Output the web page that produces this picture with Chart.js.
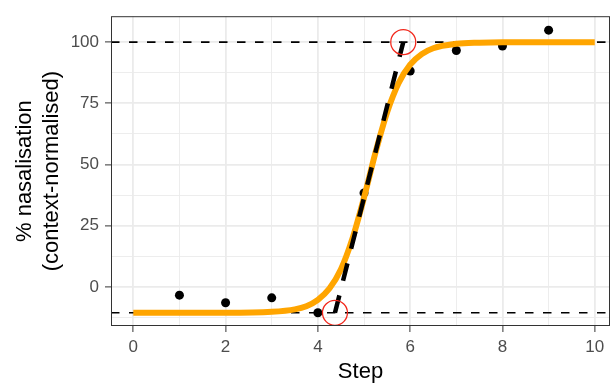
<!DOCTYPE html>
<html>
<head>
<meta charset="utf-8">
<script src="https://cdn.jsdelivr.net/npm/chart.js@4/dist/chart.umd.min.js"></script>
<style>
  html, body { margin: 0; padding: 0; background: #fff; }
  canvas { display: block; }
</style>
</head>
<body>
<canvas id="chart" width="611" height="383"></canvas>
<script>
// values
var xTicks = [0, 2, 4, 6, 8, 10];
var yTicks = [0, 25, 50, 75, 100];
var xRange = [-0.483, 10.33];
var yRange = [-16, 110.6];

var steps = [1, 2, 3, 4, 5, 6, 7, 8, 9];
var nasal = [-3.4, -6.5, -4.5, -10.6, 38.4, 88.2, 96.6, 98.4, 104.9];

var fitX = [0, 1, 2, 3, 3.5, 3.75, 4, 4.25, 4.5, 4.75, 5, 5.25, 5.5, 5.75, 6, 6.25, 6.5, 7, 7.5, 8, 9, 10];
var fitY = [-10.6, -10.6, -10.6, -10.2, -9.2, -7.9, -5.3, -0.7, 7.2, 19.8, 36.5, 55.0, 71.3, 83.3, 90.8, 95.1, 97.5, 99.3, 99.8, 100, 100, 100];

var plateaus = [100, -10.6];
var tangentX = [4.37, 5.85];
var tangentY = [-10.6, 100];

var FONT = '"Liberation Sans", Arial, Helvetica, sans-serif';

function pairs(xs, ys) {
    return xs.map(function(x, i) { return {x: x, y: ys[i]}; });
}

function withMinor(major) {
    var step = major[1] - major[0];
    var all = [];
    major.forEach(function(v) { all.push(v - step / 2); all.push(v); });
    return all;
}

function isMajor(list, v) {
    return list.some(function(m) { return Math.abs(m - v) < 1e-6; });
}

var datasets = [];

datasets.push({
    type: 'scatter',
    data: pairs(tangentX, tangentY),
    pointRadius: 12.5,
    pointStyle: 'circle',
    backgroundColor: 'rgba(0,0,0,0)',
    borderColor: '#F2281C',
    borderWidth: 1.3,
    order: 0
});

datasets.push({
    type: 'line',
    data: pairs(tangentX, tangentY),
    borderColor: '#000',
    borderWidth: 4.5,
    borderDash: [18, 15],
    pointRadius: 0,
    order: 1
});

datasets.push({
    type: 'line',
    data: pairs(fitX, fitY),
    borderColor: '#FFA500',
    borderWidth: 6,
    cubicInterpolationMode: 'monotone',
    pointRadius: 0,
    order: 2
});

plateaus.forEach(function(v) {
    datasets.push({
        type: 'line',
        data: [{x: xRange[0], y: v}, {x: xRange[1], y: v}],
        borderColor: '#000',
        borderWidth: 1.6,
        borderDash: [8.5, 9.5],
        pointRadius: 0,
        order: 3
    });
});

datasets.push({
    type: 'scatter',
    data: pairs(steps, nasal),
    pointRadius: 4.5,
    backgroundColor: '#000',
    borderColor: '#000',
    borderWidth: 0,
    order: 4
});

var panelBorder = {
    id: 'panelBorder',
    afterDraw: function(chart) {
        var a = chart.chartArea;
        var ctx = chart.ctx;
        ctx.save();
        ctx.strokeStyle = '#333333';
        ctx.lineWidth = 1;
        ctx.strokeRect(a.left + 0.5, a.top + 0.5, a.right - a.left - 1, a.bottom - a.top - 1);
        ctx.restore();
    }
};

var chart = new Chart(document.getElementById('chart'), {
    data: { datasets: datasets },
    options: {
        responsive: false,
        devicePixelRatio: 1,
        animation: false,
        layout: { autoPadding: false, padding: { top: 15, right: 1, left: 0, bottom: 0 } },
        plugins: {
            legend: { display: false },
            tooltip: { enabled: false }
        },
        scales: {
            x: {
                type: 'linear',
                min: xRange[0],
                max: xRange[1],
                afterBuildTicks: function(scale) {
                    scale.ticks = withMinor(xTicks).filter(function(v) { return v >= xRange[0]; })
                        .map(function(v) { return {value: v}; });
                },
                afterFit: function(scale) { scale.height = 57; },
                border: { display: false },
                grid: {
                    color: '#EBEBEB',
                    lineWidth: function(c) { return isMajor(xTicks, c.tick.value) ? 1.8 : 0.9; },
                    drawTicks: true,
                    tickLength: 6,
                    tickWidth: 1,
                    tickColor: function(c) { return isMajor(xTicks, c.tick.value) ? '#333333' : 'rgba(0,0,0,0)'; }
                },
                ticks: {
                    autoSkip: false,
                    maxRotation: 0,
                    padding: 5,
                    color: '#4D4D4D',
                    font: { family: FONT, size: 17 },
                    callback: function(v) { return isMajor(xTicks, v) ? String(v) : ''; }
                },
                title: {
                    display: true,
                    text: 'Step',
                    color: '#000',
                    padding: { top: 0, bottom: 0 },
                    font: { family: FONT, size: 22, lineHeight: 1 }
                }
            },
            y: {
                type: 'linear',
                min: yRange[0],
                max: yRange[1],
                afterBuildTicks: function(scale) {
                    scale.ticks = withMinor(yTicks).filter(function(v) { return v >= yRange[0]; })
                        .map(function(v) { return {value: v}; });
                },
                afterFit: function(scale) { scale.width = 111; },
                border: { display: false },
                grid: {
                    color: '#EBEBEB',
                    lineWidth: function(c) { return isMajor(yTicks, c.tick.value) ? 1.8 : 0.9; },
                    drawTicks: true,
                    tickLength: 6,
                    tickWidth: 1,
                    tickColor: function(c) { return isMajor(yTicks, c.tick.value) ? '#333333' : 'rgba(0,0,0,0)'; }
                },
                ticks: {
                    autoSkip: false,
                    padding: 6,
                    color: '#4D4D4D',
                    font: { family: FONT, size: 17 },
                    callback: function(v) { return isMajor(yTicks, v) ? String(v) : ''; }
                },
                title: {
                    display: true,
                    text: ['% nasalisation', '(context-normalised)'],
                    color: '#000',
                    padding: { top: 12, bottom: 0 },
                    font: { family: FONT, size: 22, lineHeight: 1.2 }
                }
            }
        }
    },
    plugins: [panelBorder]
});
</script>
</body>
</html>
